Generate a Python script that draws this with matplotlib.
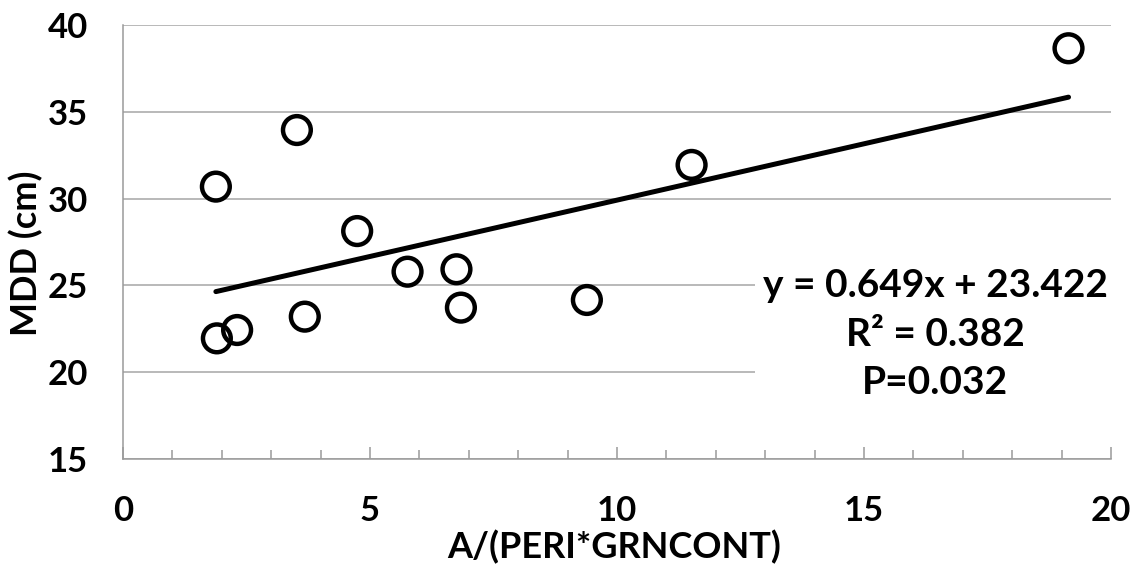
import matplotlib.pyplot as plt
import numpy as np

# data
ratio = [1.88, 1.90, 2.31, 3.52, 3.68, 4.74, 5.76, 6.75, 6.84, 9.39, 11.51, 19.14]
mdd = [30.69, 21.95, 22.43, 33.95, 23.20, 28.13, 25.79, 25.93, 23.72, 24.16, 31.94, 38.66]
slope = 0.649
intercept = 23.422
r2 = 0.382
p_value = 0.032

plt.rcParams['font.family'] = ['Lato', 'DejaVu Sans']
plt.rcParams['font.weight'] = 'bold'

fig = plt.figure(figsize=(11.35, 5.67), dpi=100)
ax = fig.add_axes([123 / 1135, 108 / 567, 988 / 1135, 434 / 567])

ax.set_xlim(0, 20)
ax.set_ylim(15, 40)
ax.set_yticks([15, 20, 25, 30, 35, 40])
ax.set_xticks([0, 5, 10, 15, 20])
ax.set_xticks(np.arange(0, 21, 1), minor=True)
ax.yaxis.grid(True, color='#a6a6a6', linewidth=1.1, zorder=0)

for s in ['top', 'right']:
    ax.spines[s].set_visible(False)
for s in ['left', 'bottom']:
    ax.spines[s].set_color('#9a9a9a')
    ax.spines[s].set_linewidth(1.1)

ax.tick_params(axis='x', which='major', direction='in', length=8.5, width=1.1,
               color='#9a9a9a', pad=26, labelsize=25)
ax.tick_params(axis='x', which='minor', direction='in', length=6.5, width=1.1,
               color='#9a9a9a')
ax.tick_params(axis='y', length=0, pad=25, labelsize=25)

ax.scatter(ratio, mdd, s=20**2, facecolors='none', edgecolors='black',
           linewidths=3.2, zorder=4)

xs = np.array([min(ratio), max(ratio)])
ax.plot(xs, slope * xs + intercept, color='black', linewidth=3.6,
        solid_capstyle='round', zorder=3)

label = f'y = {slope}x + {intercept}\nR² = {r2}\nP={p_value}'
ax.text(0.822, 0.288, label, transform=ax.transAxes, ha='center', va='center',
        fontsize=28, fontweight='bold', linespacing=1.45, zorder=5,
        bbox=dict(facecolor='white', edgecolor='none', pad=6))

fig.text(614 / 1135, 1 - 547 / 567, 'A/(PERI*GRNCONT)', ha='center', va='center',
         fontsize=26, fontweight='bold')
fig.text(26 / 1135, 1 - 253 / 567, 'MDD (cm)', ha='center', va='center',
         rotation=90, fontsize=26, fontweight='bold')

fig.savefig('out.png', dpi=100)
